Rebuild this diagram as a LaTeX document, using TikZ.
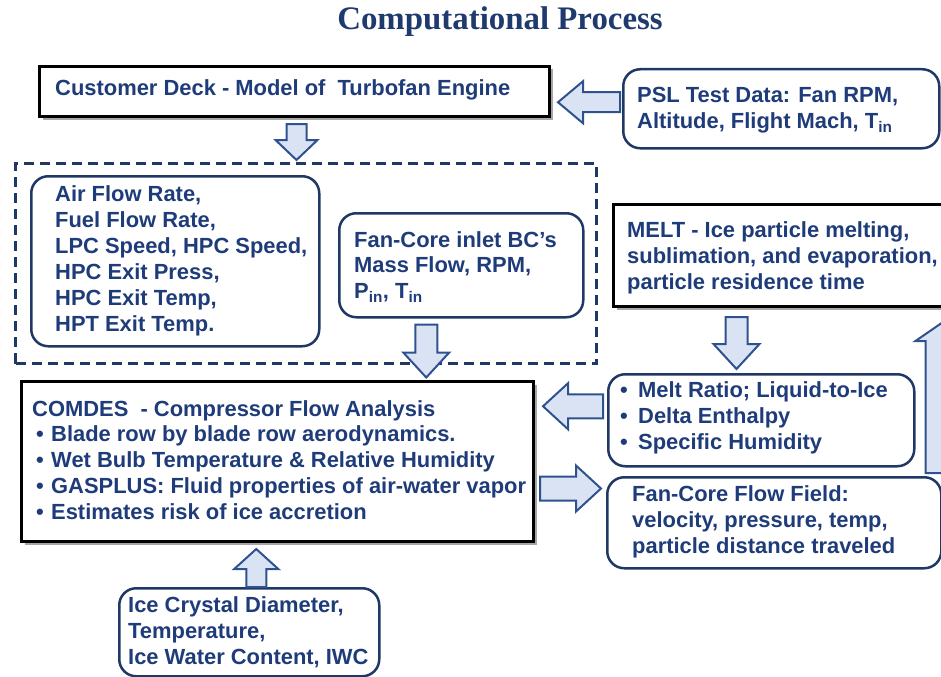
\documentclass[tikz,border=0pt]{standalone}
\usepackage{fontspec}
\setmainfont{Liberation Sans}
\newfontfamily\titlefont{Liberation Serif}
\usetikzlibrary{calc,shadows}
\definecolor{navytxt}{HTML}{1F3C7A}
\definecolor{titlecol}{HTML}{1F3A6E}
\definecolor{boxnavy}{HTML}{1F3864}
\definecolor{arrline}{HTML}{2F528F}
\definecolor{arrfill}{HTML}{DAE3F3}
\newcommand\bodyfs{\fontsize{22}{26}\selectfont\bfseries}
\newcommand\bul[1]{\makebox[#1][l]{\textbullet}}
\newcommand\bulx[2]{\makebox[#1][l]{\hspace{#2}\textbullet}}
% vertical block arrow: tail, tip, shaft half, head half, signed head length
\newcommand\arrV[5]{\draw[barrow] let \p1=#1, \p2=#2 in
  ({\x1-#3bp},\y1) -- ({\x1-#3bp},{\y2+(#5bp)}) -- ({\x1-#4bp},{\y2+(#5bp)}) -- (\x1,\y2)
  -- ({\x1+#4bp},{\y2+(#5bp)}) -- ({\x1+#3bp},{\y2+(#5bp)}) -- ({\x1+#3bp},\y1) -- cycle;}
% horizontal block arrow
\newcommand\arrH[5]{\draw[barrow] let \p1=#1, \p2=#2 in
  (\x1,{\y1-#3bp}) -- ({\x2+(#5bp)},{\y1-#3bp}) -- ({\x2+(#5bp)},{\y1-#4bp}) -- (\x2,\y1)
  -- ({\x2+(#5bp)},{\y1+#4bp}) -- ({\x2+(#5bp)},{\y1+#3bp}) -- (\x1,{\y1+#3bp}) -- cycle;}
\begin{document}
\begin{tikzpicture}[x=1bp,y=-1bp,
  blackbox/.style={draw=black, line width=3bp, fill=white, anchor=north west, inner sep=0pt,
     drop shadow={shadow xshift=3bp, shadow yshift=-3bp, fill=black, opacity=0.35}},
  roundbox/.style={draw=boxnavy, line width=2.5bp, rounded corners=17bp, fill=white, anchor=north west, inner sep=0pt},
  dashbox/.style={draw=boxnavy, line width=3bp, dash pattern=on 10bp off 6bp, anchor=north west, inner sep=0pt},
  txt/.style={font=\bodyfs, text=navytxt, align=left, anchor=west, inner sep=0pt},
  barrow/.style={draw=arrline, line width=2bp, fill=arrfill, line join=miter}]
\useasboundingbox (0,0) rectangle (941,677);
\clip (0,0) rectangle (941,677);

\node[font=\titlefont\fontsize{33}{36}\selectfont\bfseries, text=titlecol] (title) at (500,22) {Computational Process};

% top row
\node[blackbox, minimum width=510bp, minimum height=50bp] (cust) at (38,65) {};
\node[txt] (custt) at (55,90) {Customer Deck - Model of\ \ Turbofan Engine};
\node[roundbox, minimum width=316bp, minimum height=79bp] (psl) at (622,68) {};
\node[txt] (pslt) at (637,110) {PSL Test Data: Fan RPM,\\Altitude, Flight Mach, T\textsubscript{in}};

% dashed group
\node[dashbox, minimum width=581bp, minimum height=200bp] (grp) at (14,162) {};
\node[roundbox, minimum width=288bp, minimum height=170bp] (engp) at (30,175) {};
\node[txt] (engpt) at (55,261) {Air Flow Rate,\\Fuel Flow Rate,\\LPC Speed, HPC Speed,\\HPC Exit Press,\\HPC Exit Temp,\\HPT Exit Temp.};
\node[roundbox, minimum width=244bp, minimum height=104bp] (bc) at (338,212) {};
\node[txt] (bct) at (354,267) {Fan-Core inlet BC’s\\Mass Flow, RPM,\\P\textsubscript{in}, T\textsubscript{in}};

% MELT
\node[blackbox, minimum width=350bp, minimum height=102bp] (melt) at (612,203) {};
\node[txt] (meltt) at (627,258) {MELT - Ice particle melting,\\sublimation, and evaporation,\\particle residence time};
\node[roundbox, minimum width=306bp, minimum height=92bp] (mr) at (607,373) {};
\node[txt] (mrt) at (620,418) {\bul{18bp}Melt Ratio; Liquid-to-Ice\\\bul{18bp}Delta Enthalpy\\\bul{18bp}Specific Humidity};

% COMDES
\node[blackbox, minimum width=512bp, minimum height=160bp] (comdes) at (20,380) {};
\node[txt] (comdest) at (32,460) {COMDES\ \ - Compressor Flow Analysis\\
 \bulx{19bp}{4bp}Blade row by blade row aerodynamics.\\
 \bulx{19bp}{4bp}Wet Bulb Temperature \& Relative Humidity\\
 \bulx{19bp}{4bp}GASPLUS: Fluid properties of air-water vapor\\
 \bulx{19bp}{4bp}Estimates risk of ice accretion};

\node[roundbox, minimum width=334bp, minimum height=91bp] (flow) at (606,476) {};
\node[txt] (flowt) at (632,522) {Fan-Core Flow Field:\\velocity, pressure, temp,\\particle distance traveled};

\node[roundbox, minimum width=260bp, minimum height=88bp] (ice) at (118,587) {};
\node[txt] (icet) at (128,632) {Ice Crystal Diameter,\\Temperature,\\Ice Water Content, IWC};

% block arrows
\arrH{($(psl.west)+(-2,-6.5)$)}{($(psl.west)+(-64,-6.5)$)}{10}{21}{25}
\arrV{($(cust.south)+(2,6)$)}{($(cust.south)+(2,42)$)}{10}{21}{20}
\arrV{($(bc.south)+(-35,6)$)}{($(bc.south)+(-35,59)$)}{11}{23}{25}
\arrV{($(melt.south)+(-52,9)$)}{($(melt.south)+(-52,61)$)}{11}{23}{25}
\arrH{($(mr.west)+(-4,-14)$)}{($(comdes.east)+(8,-55)$)}{12}{23}{25}
\arrH{($(comdes.east)+(5,27)$)}{($(flow.west)+(-5,-34.5)$)}{12}{23}{-25}
\arrV{($(ice.north)+(7,0)$)}{($(comdes.south)+(-21,6)$)}{10}{22}{-20}
\arrV{($(flow.north east)+(2,-3)$)}{($(melt.south east)+(-20,13)$)}{19}{29}{-20}
\end{tikzpicture}
\end{document}
